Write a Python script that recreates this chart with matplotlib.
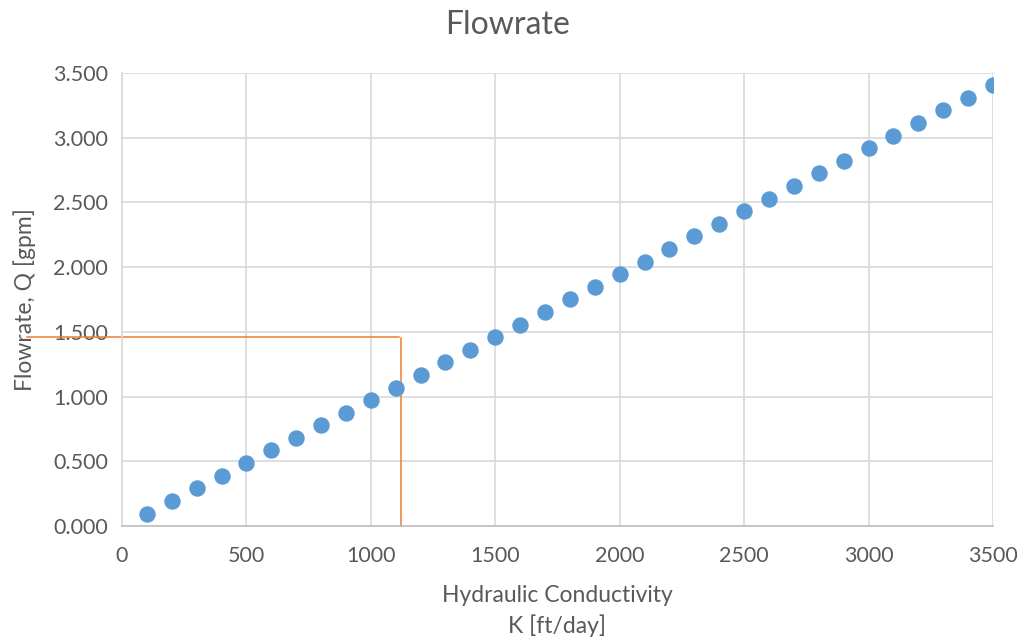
import matplotlib
matplotlib.use("Agg")
import matplotlib.pyplot as plt
from matplotlib.ticker import FormatStrFormatter

plt.rcParams['font.family'] = ['Lato', 'DejaVu Sans']

# hydraulic conductivity K [ft/day]
k_values = [100, 200, 300, 400, 500, 600, 700, 800, 900, 1000,
            1100, 1200, 1300, 1400, 1500, 1600, 1700, 1800, 1900, 2000,
            2100, 2200, 2300, 2400, 2500, 2600, 2700, 2800, 2900, 3000,
            3100, 3200, 3300, 3400, 3500]
# flowrate Q [gpm]
q_values = [0.097, 0.195, 0.292, 0.389, 0.486, 0.584, 0.681, 0.778, 0.876, 0.973,
            1.070, 1.168, 1.265, 1.362, 1.460, 1.557, 1.654, 1.751, 1.849, 1.946,
            2.043, 2.141, 2.238, 2.335, 2.432, 2.530, 2.627, 2.724, 2.822, 2.919,
            3.016, 3.114, 3.211, 3.308, 3.406]

# orange guide lines
guide_h_x = [-380, 1115]
guide_h_y = [1.46, 1.46]
guide_v_x = [1120, 1120]
guide_v_y = [1.45, 0.0]

text_col = "#595959"
grid_col = "#D9D9D9"

fig = plt.figure(figsize=(10.21, 6.4), dpi=100)
ax = fig.add_axes([0.1195, 0.178, 0.853, 0.708])

ax.scatter(k_values, q_values, s=140, color="#5B9BD5", zorder=3, linewidths=0)
ax.plot(guide_h_x, guide_h_y, color="#ED7D31", lw=1.1, clip_on=False, zorder=2)
ax.plot(guide_v_x, guide_v_y, color="#ED7D31", lw=1.1, clip_on=False, zorder=2)

ax.set_xlim(0, 3500)
ax.set_ylim(0, 3.5)
ax.set_xticks(range(0, 3501, 500))
ax.set_yticks([i * 0.5 for i in range(8)])
ax.yaxis.set_major_formatter(FormatStrFormatter('%.3f'))
ax.grid(True, color=grid_col, lw=1.2, zorder=0)
ax.set_axisbelow(True)

for side in ["top", "right"]:
    ax.spines[side].set_visible(False)
ax.spines["left"].set_color(grid_col)
ax.spines["left"].set_linewidth(1.2)
ax.spines["bottom"].set_color("#BFBFBF")
ax.spines["bottom"].set_linewidth(1.2)
ax.tick_params(length=0, labelsize=15.5, colors=text_col)
ax.tick_params(axis="x", pad=14)
ax.tick_params(axis="y", pad=10)

# title is centred on the whole figure, not the axes
fig.text(0.497, 1 - 25 / 640, "Flowrate", fontsize=23, color=text_col,
         ha="center", va="center")
ax.set_xlabel("Hydraulic Conductivity\nK [ft/day]", fontsize=16.5, color=text_col,
              labelpad=14, linespacing=1.45)
ax.set_ylabel("Flowrate, Q [gpm]", fontsize=16.5, color=text_col, labelpad=12)

fig.savefig("out.png", dpi=100)
